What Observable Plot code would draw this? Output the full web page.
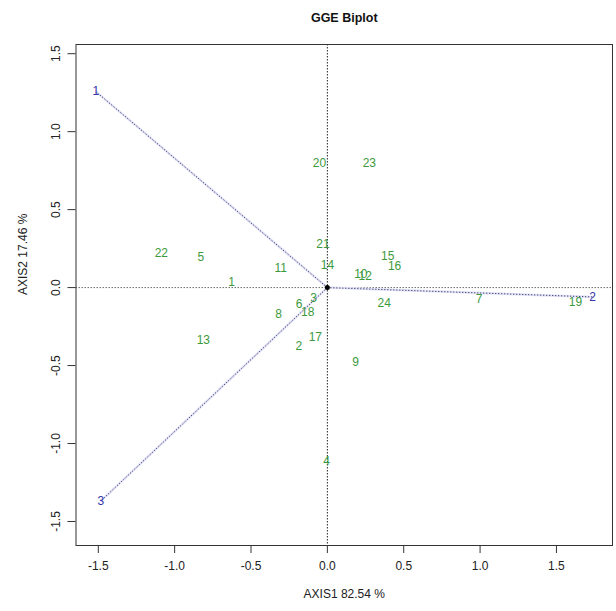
<!DOCTYPE html>
<html><head><meta charset="utf-8">
<script src="https://cdn.jsdelivr.net/npm/d3@7"></script>
<script src="https://cdn.jsdelivr.net/npm/@observablehq/plot@0.6"></script>
<style>body{margin:0;background:#fff;}</style>
</head><body><div id="chart"></div>
<script>
const title = "GGE Biplot";
const xLabel = "AXIS1 82.54 %";
const yLabel = "AXIS2 17.46 %";
const xTicks = [-1.5, -1.0, -0.5, 0.0, 0.5, 1.0, 1.5];
const yTicks = [-1.5, -1.0, -0.5, 0.0, 0.5, 1.0, 1.5];

const genotypes = ["1","2","3","4","5","6","7","8","9","10","11","12","13","14","15","16","17","18","19","20","21","22","23","24"];
const genoX = [-0.627,-0.187,-0.090,-0.005,-0.828,-0.185,0.993,-0.320,0.185,0.219,-0.305,0.248,-0.812,0.000,0.395,0.440,-0.079,-0.129,1.624,-0.052,-0.029,-1.087,0.275,0.372];
const genoY = [0.032,-0.373,-0.069,-1.113,0.197,-0.105,-0.076,-0.172,-0.476,0.085,0.124,0.073,-0.334,0.142,0.199,0.137,-0.316,-0.160,-0.092,0.795,0.279,0.222,0.801,-0.098];

const envs = ["1","2","3"];
const envX = [-1.516, 1.737, -1.484];
const envY = [1.257, -0.060, -1.369];

const geno = genotypes.map((g, i) => ({label: g, x: genoX[i], y: genoY[i]}));
const env = envs.map((e, i) => ({label: e, x: envX[i], y: envY[i]}));

const fmt = d => d.toFixed(1);

const chart = Plot.plot({
  width: 616,
  height: 611,
  marginLeft: 75.5,
  marginRight: 4,
  marginTop: 44,
  marginBottom: 66,
  style: {fontFamily: "'Liberation Sans', Arial, sans-serif", fontSize: "12px", color: "#222", background: "white"},
  x: {domain: [-1.646, 1.867]},
  y: {domain: [-1.654, 1.559]},
  marks: [
    Plot.ruleX([0], {stroke: "#222", strokeDasharray: "1.5,1.5", strokeWidth: 1}),
    Plot.ruleY([0], {stroke: "#444", strokeDasharray: "1.5,1.5", strokeWidth: 0.8}),
    Plot.link(env, {x1: 0, y1: 0, x2: "x", y2: "y", stroke: "#e2e2f6", strokeWidth: 2.5}),
    Plot.link(env, {x1: 0, y1: 0, x2: "x", y2: "y", stroke: "#1c1c50", strokeWidth: 1, strokeDasharray: "1,2"}),
    Plot.dot([{x: 0, y: 0}], {x: "x", y: "y", r: 2.5, fill: "black"}),
    Plot.text(geno, {x: "x", y: "y", text: "label", fill: "#3c9a3c", fontSize: 12}),
    Plot.text(env, {x: "x", y: "y", text: "label", fill: "#3535a8", fontSize: 12}),
    Plot.frame({stroke: "#333"}),
    Plot.axisX({ticks: xTicks, tickFormat: fmt, tickSize: 8, tickPadding: 8, label: null, stroke: "#333"}),
    Plot.axisY({ticks: yTicks, tickFormat: fmt, tickSize: 8, tickPadding: 8, tickRotate: -90, label: null, stroke: "#333"}),
    Plot.text([title], {frameAnchor: "top", dy: -31, fontWeight: "bold", fontSize: 12.5, fill: "#111"}),
    Plot.text([xLabel], {frameAnchor: "bottom", dy: 52, fontSize: 12, fill: "#222"}),
    Plot.text([yLabel], {frameAnchor: "left", dx: -53, rotate: -90, fontSize: 12, fill: "#222"})
  ]
});
document.getElementById("chart").appendChild(chart);
</script>
</body></html>
